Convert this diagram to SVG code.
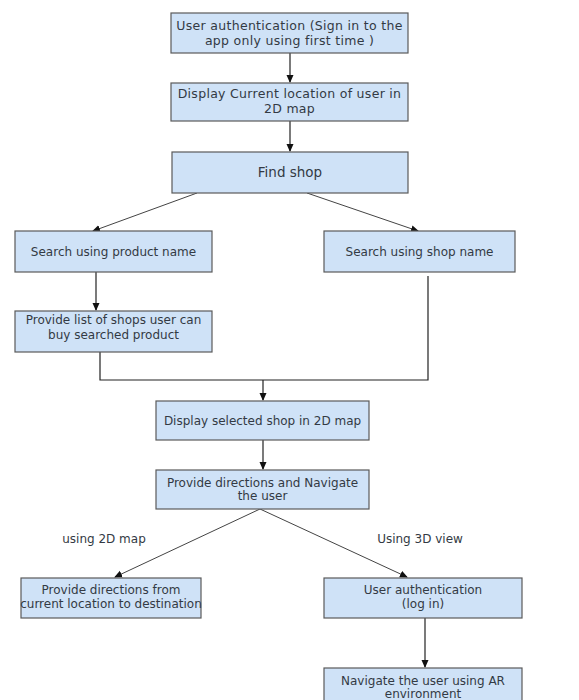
<svg xmlns="http://www.w3.org/2000/svg" width="579" height="700" viewBox="0 0 579 700">
<defs>
<style>
.box{fill:#cfe2f7;stroke:#5a5a5a;stroke-width:1.2}
.t{font-family:"DejaVu Sans","Liberation Sans",sans-serif;font-size:12px;fill:#333a44;text-anchor:middle}
.big{font-size:12.5px;letter-spacing:0.3px}
.c{fill:none;stroke:#222;stroke-width:1.2}
.d{fill:none;stroke:#444;stroke-width:1}
</style>
<marker id="ah" markerWidth="8" markerHeight="8" refX="7" refY="4" orient="auto" markerUnits="userSpaceOnUse">
<path d="M0,0.5 L8,4 L0,7.5 Z" fill="#111"/>
</marker>
</defs>
<rect width="579" height="700" fill="#fff"/>
<g id="connectors">
<path class="c" d="M290,53 V82" marker-end="url(#ah)"/>
<path class="c" d="M290,121 V151" marker-end="url(#ah)"/>
<path class="d" d="M197,193 L93,231" marker-end="url(#ah)"/>
<path class="d" d="M307,193 L418,231" marker-end="url(#ah)"/>
<path class="c" d="M96,272 V310" marker-end="url(#ah)"/>
<path class="c" d="M100,352 V380 H428 V276"/>
<path class="c" d="M263,380 V400" marker-end="url(#ah)"/>
<path class="c" d="M263,440 V469" marker-end="url(#ah)"/>
<path class="d" d="M260,509 L115,577" marker-end="url(#ah)"/>
<path class="d" d="M260,509 L407,577" marker-end="url(#ah)"/>
<path class="c" d="M425,618 V667" marker-end="url(#ah)"/>
</g>
<g id="n1"><rect class="box" x="171" y="13" width="237" height="40"/><text class="t big" x="289.5" y="30">User authentication (Sign in to the</text><text class="t big" x="289.5" y="44.5">app only using first time )</text></g>
<g id="n2"><rect class="box" x="171" y="83" width="237" height="38"/><text class="t big" x="289.5" y="98">Display Current location of user in</text><text class="t big" x="289.5" y="112.5">2D map</text></g>
<g id="n3"><rect class="box" x="172" y="152" width="236" height="41"/><text class="t" style="font-size:13.5px" x="290" y="177">Find shop</text></g>
<g id="n4"><rect class="box" x="15" y="231" width="197" height="41"/><text class="t" x="113.5" y="256">Search using product name</text></g>
<g id="n5"><rect class="box" x="324" y="231" width="191" height="41"/><text class="t" x="419.5" y="256">Search using shop name</text></g>
<g id="n6"><rect class="box" x="15" y="311" width="197" height="41"/><text class="t" x="113.5" y="324">Provide list of shops user can</text><text class="t" x="113.5" y="339">buy searched product</text></g>
<g id="n7"><rect class="box" x="156" y="401" width="213" height="39"/><text class="t" x="262.5" y="425">Display selected shop in 2D map</text></g>
<g id="n8"><rect class="box" x="156" y="470" width="213" height="39"/><text class="t" x="262.5" y="487">Provide directions and Navigate</text><text class="t" x="262.5" y="500">the user</text></g>
<g id="l1"><text class="t" x="104" y="543">using 2D map</text></g>
<g id="l2"><text class="t" x="420" y="543">Using 3D view</text></g>
<g id="n9"><rect class="box" x="21" y="578" width="180" height="40"/><text class="t" x="111" y="594">Provide directions from</text><text class="t" x="111" y="608">current location to destination</text></g>
<g id="n10"><rect class="box" x="324" y="578" width="198" height="40"/><text class="t" x="423" y="594">User authentication</text><text class="t" x="423" y="608">(log in)</text></g>
<g id="n11"><rect class="box" x="324" y="668" width="198" height="38"/><text class="t" x="423" y="685">Navigate the user using AR</text><text class="t" x="423" y="698">environment</text></g>
</svg>
